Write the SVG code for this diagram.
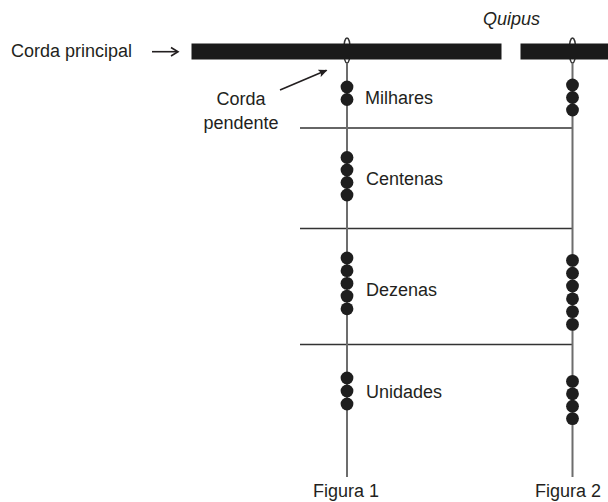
<svg xmlns="http://www.w3.org/2000/svg" width="608" height="502" viewBox="0 0 608 502">
<style>
text{font-family:"Liberation Sans",Arial,sans-serif;font-size:18px;fill:#231f20}
.it{font-style:italic}
.bar{fill:#1a1a1a}
.cord{stroke:#6d6d6d;stroke-width:2;fill:none}
.div{stroke:#333;stroke-width:1.5;fill:none}
.loop{fill:#fff;stroke:#333;stroke-width:1.3}
.bead{fill:#1e1e1e}
.arr{stroke:#231f20;stroke-width:1.6;fill:none}
</style>
<defs>
<marker id="ah" markerWidth="10" markerHeight="8" refX="8" refY="4" orient="auto" markerUnits="userSpaceOnUse">
<path d="M0,0 L9,4 L0,8 L2,4 Z" fill="#231f20"/>
</marker>
</defs>
<g id="dividers">
<line class="div" x1="300" y1="128" x2="572.5" y2="128"/>
<line class="div" x1="300" y1="228.5" x2="572.5" y2="228.5"/>
<line class="div" x1="300" y1="344.5" x2="572.5" y2="344.5"/>
</g>
<g id="figura1">
<ellipse class="loop" cx="347" cy="50.5" rx="3.2" ry="12.5"/>
<line class="cord" x1="347" y1="63" x2="347" y2="477"/>
<g class="bead">
<circle cx="347" cy="87" r="6.4"/><circle cx="347" cy="99.5" r="6.4"/>
<circle cx="347" cy="157.5" r="6.4"/><circle cx="347" cy="170" r="6.4"/><circle cx="347" cy="182.5" r="6.4"/><circle cx="347" cy="195" r="6.4"/>
<circle cx="347" cy="258" r="6.4"/><circle cx="347" cy="270.7" r="6.4"/><circle cx="347" cy="283.4" r="6.4"/><circle cx="347" cy="296.1" r="6.4"/><circle cx="347" cy="308.8" r="6.4"/>
<circle cx="347" cy="378" r="6.4"/><circle cx="347" cy="391" r="6.4"/><circle cx="347" cy="404" r="6.4"/>
</g>
<text x="365" y="104">Milhares</text>
<text x="366" y="185">Centenas</text>
<text x="366" y="296">Dezenas</text>
<text x="366" y="398">Unidades</text>
<text x="346" y="497" text-anchor="middle">Figura 1</text>
</g>
<g id="figura2">
<ellipse class="loop" cx="572.5" cy="50.5" rx="3.2" ry="12.5"/>
<line class="cord" x1="572.5" y1="63" x2="572.5" y2="477"/>
<g class="bead">
<circle cx="572.5" cy="85" r="6.4"/><circle cx="572.5" cy="97.5" r="6.4"/><circle cx="572.5" cy="110" r="6.4"/>
<circle cx="572.5" cy="260.4" r="6.4"/><circle cx="572.5" cy="273.2" r="6.4"/><circle cx="572.5" cy="286" r="6.4"/><circle cx="572.5" cy="298.8" r="6.4"/><circle cx="572.5" cy="311.6" r="6.4"/><circle cx="572.5" cy="324.4" r="6.4"/>
<circle cx="572.5" cy="381.4" r="6.4"/><circle cx="572.5" cy="393.8" r="6.4"/><circle cx="572.5" cy="406.2" r="6.4"/><circle cx="572.5" cy="418.6" r="6.4"/>
</g>
<text x="568" y="497" text-anchor="middle">Figura 2</text>
</g>
<g id="corda-principal">
<rect class="bar" x="191.5" y="43.5" width="310" height="16"/>
<rect class="bar" x="520.5" y="43.5" width="88" height="16"/>
<text x="11" y="57">Corda principal</text>
</g>
<g id="quipus-label">
<text class="it" x="483" y="25">Quipus</text>
</g>
<g id="corda-pendente-label">
<text x="241" y="105" text-anchor="middle">Corda</text>
<text x="241" y="129" text-anchor="middle">pendente</text>
</g>
<g id="connectors">
<line class="arr" x1="152" y1="51.7" x2="177" y2="51.7"/>
<polyline class="arr" points="171,47.5 178,51.7 171,56"/>
<line class="arr" x1="280" y1="90" x2="326.5" y2="70.3" marker-end="url(#ah)"/>
</g>
</svg>
